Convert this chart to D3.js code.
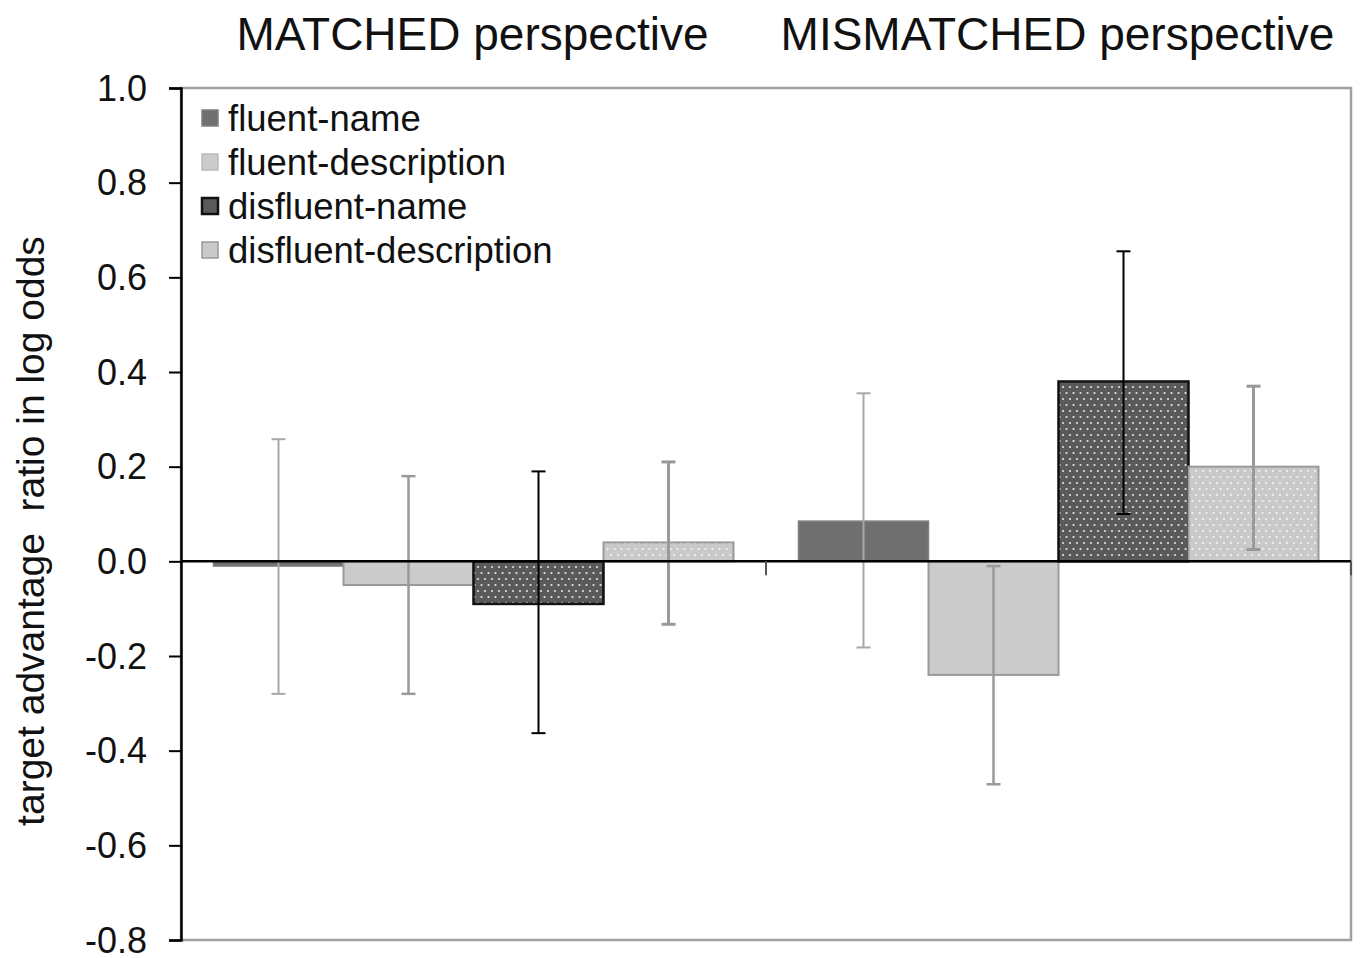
<!DOCTYPE html>
<html><head><meta charset="utf-8">
<script src="https://cdn.jsdelivr.net/npm/d3@7/dist/d3.min.js"></script>
<style>body{margin:0;background:#fff;}svg{display:block;font-family:"Liberation Sans",Arial,sans-serif;}</style>
</head><body>
<svg id="c" width="1360" height="958"></svg>
<script>
const groups = ["MATCHED perspective", "MISMATCHED perspective"];
const series = ["fluent-name", "fluent-description", "disfluent-name", "disfluent-description"];
// values[group][series]
const values = [
  [-0.01, -0.05, -0.09, 0.04],
  [0.085, -0.24, 0.38, 0.20]
];
const errLow = [
  [-0.28, -0.28, -0.363, -0.133],
  [-0.182, -0.471, 0.10, 0.025]
];
const errHigh = [
  [0.258, 0.18, 0.19, 0.21],
  [0.355, -0.01, 0.655, 0.37]
];
const yTicks = [1.0, 0.8, 0.6, 0.4, 0.2, 0.0, -0.2, -0.4, -0.6, -0.8];

const fills = ["#6f6f6f", "#cbcbcb", "url(#dotsDark)", "url(#dotsLight)"];
const strokes = ["#808080", "#9a9a9a", "#111", "#9a9a9a"];
const strokeW = [1.5, 2, 2.5, 2];
const errCol = ["#a8a8a8", "#9a9a9a", "#000", "#999"];
const errW = [2, 2.5, 2, 3];

const svg = d3.select("#c");
const L = 181, R = 1351, T = 88, B = 940;

const defs = svg.append("defs");
function dotPattern(id, bg, dot) {
  const p = defs.append("pattern").attr("id", id).attr("patternUnits", "userSpaceOnUse")
    .attr("width", 14).attr("height", 12);
  p.append("rect").attr("width", 14).attr("height", 12).attr("fill", bg);
  [[3,3],[10,3],[6.5,9],[13.5,9],[-0.5,9]].forEach(d => p.append("circle").attr("cx", d[0]).attr("cy", d[1]).attr("r", 1.1).attr("fill", dot));
}
dotPattern("dotsDark", "#5a5a5a", "#e0e0e0");
dotPattern("dotsLight", "#c9c9c9", "#f4f4f4");

const y = d3.scaleLinear().domain([-0.8, 1.0]).range([B, T]);
const x0 = d3.scaleBand().domain(groups).range([L, R]).paddingInner(0).paddingOuter(0);
const x1 = d3.scaleBand().domain(series).range([0, x0.bandwidth()]).paddingInner(0).paddingOuter(0.25);

// plot border
svg.append("rect").attr("x", L).attr("y", T).attr("width", R - L).attr("height", B - T)
  .attr("fill", "none").attr("stroke", "#a0a0a0").attr("stroke-width", 2.5);

// bars
groups.forEach((g, gi) => {
  const gg = svg.append("g").attr("transform", `translate(${x0(g)},0)`);
  series.forEach((s, si) => {
    const v = values[gi][si];
    gg.append("rect")
      .attr("x", x1(s)).attr("width", x1.bandwidth())
      .attr("y", y(Math.max(0, v))).attr("height", Math.abs(y(v) - y(0)))
      .attr("fill", fills[si]).attr("stroke", strokes[si]).attr("stroke-width", strokeW[si]);
  });
});

// error bars
groups.forEach((g, gi) => {
  series.forEach((s, si) => {
    const cx = x0(g) + x1(s) + x1.bandwidth() / 2;
    const lo = y(errLow[gi][si]), hi = y(errHigh[gi][si]);
    const eg = svg.append("g").attr("stroke", errCol[si]).attr("stroke-width", errW[si]);
    eg.append("line").attr("x1", cx).attr("x2", cx).attr("y1", lo).attr("y2", hi);
    eg.append("line").attr("x1", cx - 7).attr("x2", cx + 7).attr("y1", lo).attr("y2", lo);
    eg.append("line").attr("x1", cx - 7).attr("x2", cx + 7).attr("y1", hi).attr("y2", hi);
  });
});

// zero axis
svg.append("line").attr("x1", L).attr("x2", R).attr("y1", y(0)).attr("y2", y(0))
  .attr("stroke", "#000").attr("stroke-width", 2.5);
[x0(groups[1]), R].forEach(xx => {
  svg.append("line").attr("x1", xx).attr("x2", xx).attr("y1", y(0)).attr("y2", y(0) + 14)
    .attr("stroke", "#555").attr("stroke-width", 2);
});

// y axis
const fmt = d => d3.format(".1f")(d).replace("\u2212", "-");
const yAxis = d3.axisLeft(y).tickValues(yTicks).tickFormat(fmt).tickSize(12).tickPadding(22);
const ya = svg.append("g").attr("transform", `translate(${L},0)`).call(yAxis);
ya.select(".domain").attr("stroke", "#000").attr("stroke-width", 2.5);
ya.selectAll(".tick line").attr("stroke", "#000").attr("stroke-width", 2);
ya.selectAll(".tick text").attr("font-size", 36).attr("fill", "#111")
  .attr("font-family", '"Liberation Sans",Arial,sans-serif').attr("dy", "0.34em");

// y label
svg.append("text").attr("transform", `translate(44,531) rotate(-90)`)
  .attr("text-anchor", "middle").attr("font-size", 39).attr("fill", "#111")
  .style("white-space", "pre").text("target advantage  ratio in log odds");

// group titles
groups.forEach(g => {
  svg.append("text").attr("x", x0(g) + x0.bandwidth() / 2 - 1).attr("y", 50)
    .attr("text-anchor", "middle").attr("font-size", 46).attr("fill", "#111").text(g);
});

// legend
const legFill = ["#6f6f6f", "#cbcbcb", "#5a5a5a", "#c9c9c9"];
const legStroke = ["#808080", "#bbb", "#111", "#999"];
series.forEach((s, si) => {
  const ly = 118 + si * 44;
  svg.append("rect").attr("x", 202).attr("y", ly - 8).attr("width", 16).attr("height", 16)
    .attr("fill", legFill[si]).attr("stroke", legStroke[si]).attr("stroke-width", si === 2 ? 2.5 : 1.5);
  svg.append("text").attr("x", 228).attr("y", ly).attr("dy", "0.35em")
    .attr("font-size", 36.5).attr("fill", "#111").text(s);
});
</script>
</body></html>
